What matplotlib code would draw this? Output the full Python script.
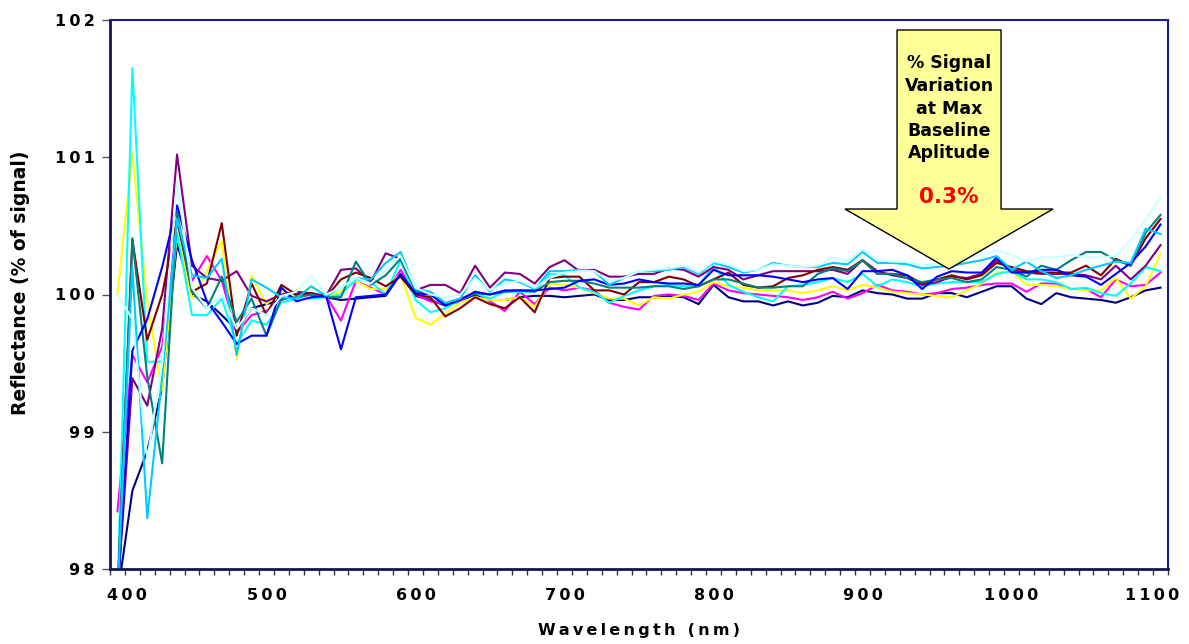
import matplotlib
matplotlib.use("Agg")
import matplotlib.pyplot as plt
import matplotlib.transforms as mtransforms
from matplotlib.patches import Polygon
import numpy as np

# wavelengths, 400..1100 nm every 10 nm
wavelength = list(range(400, 1101, 10))

navy = [97.8, 98.57, 98.86, 99.32, 100.37, 100.0, 99.95, 99.85, 99.74, 99.9,
        99.93, 99.96, 100.0, 100.0, 99.98, 99.96, 99.97, 99.98, 99.99, 100.15,
        99.99, 99.96, 99.92, 99.95, 100.0, 99.96, 99.96, 99.98, 99.99, 99.99,
        99.98, 99.99, 100.0, 99.96, 99.96, 99.98, 99.98, 99.99, 99.98, 99.93,
        100.07, 99.98, 99.95, 99.95, 99.92, 99.95, 99.92, 99.94, 99.99, 99.98,
        100.03, 100.01, 100.0, 99.97, 99.97, 100.01, 100.01, 99.98, 100.02, 100.06,
        100.06, 99.97, 99.93, 100.01, 99.98, 99.97, 99.96, 99.94, 99.98, 100.03,
        100.05]
magenta = [98.42, 99.56, 99.36, 99.62, 100.53, 100.1, 100.28, 100.1, 99.72, 99.85,
           99.88, 99.97, 99.98, 100.0, 99.99, 99.81, 100.1, 100.05, 100.0, 100.18,
           100.0, 99.95, 99.93, 99.95, 100.02, 99.95, 99.88, 100.02, 99.93, 100.05,
           100.03, 100.05, 100.03, 99.94, 99.91, 99.89, 99.99, 100.0, 99.99, 99.96,
           100.08, 100.03, 100.01, 100.0, 99.99, 99.98, 99.96, 99.98, 100.02, 99.97,
           100.01, 100.07, 100.03, 100.02, 100.0, 100.01, 100.04, 100.05, 100.07, 100.08,
           100.08, 100.02, 100.08, 100.08, 100.04, 100.04, 99.98, 100.11, 100.06, 100.07,
           100.16]
yellow = [100.0, 101.03, 99.95, 99.3, 100.45, 99.97, 100.17, 100.39, 99.53, 100.14,
          99.93, 100.03, 99.98, 100.06, 99.99, 100.02, 100.1, 100.04, 100.04, 100.15,
          99.83, 99.78, 99.86, 99.94, 99.98, 99.96, 99.96, 99.98, 99.91, 100.08,
          100.07, 100.05, 100.01, 99.97, 99.97, 99.92, 99.98, 99.97, 100.0, 100.02,
          100.09, 100.06, 100.05, 100.03, 100.03, 100.03, 100.01, 100.03, 100.06, 100.03,
          100.07, 100.05, 100.02, 100.01, 100.0, 99.99, 99.98, 100.03, 100.08, 100.16,
          100.17, 100.07, 100.07, 100.06, 100.04, 100.03, 100.03, 100.12, 99.97, 100.06,
          100.3]
cyan = [97.8, 101.65, 99.51, 99.51, 100.45, 99.85, 99.85, 99.97, 99.64, 99.81,
        99.78, 99.94, 99.97, 99.97, 99.98, 100.0, 100.11, 100.09, 100.0, 100.25,
        99.96, 99.87, 99.9, 99.96, 100.01, 99.97, 100.02, 100.02, 100.02, 100.15,
        100.14, 100.05, 100.02, 99.94, 99.99, 100.03, 100.06, 100.07, 100.06, 100.06,
        100.21, 100.07, 100.02, 99.98, 99.95, 100.06, 100.07, 100.09, 100.12, 100.09,
        100.15, 100.06, 100.11, 100.09, 100.06, 100.08, 100.09, 100.09, 100.09, 100.15,
        100.17, 100.11, 100.11, 100.09, 100.04, 100.05, 100.01, 99.99, 100.08, 100.2,
        100.17]
purple = [97.8, 99.39, 99.19, 99.75, 101.02, 100.21, 100.12, 100.1, 100.17, 99.99,
          99.95, 100.0, 100.02, 100.01, 99.99, 100.18, 100.19, 100.09, 100.3, 100.26,
          100.03, 100.07, 100.07, 100.01, 100.21, 100.05, 100.16, 100.15, 100.08, 100.2,
          100.25, 100.17, 100.18, 100.13, 100.13, 100.15, 100.15, 100.19, 100.18, 100.13,
          100.2, 100.18, 100.11, 100.14, 100.17, 100.17, 100.17, 100.17, 100.18, 100.15,
          100.25, 100.17, 100.14, 100.12, 100.07, 100.09, 100.13, 100.12, 100.15, 100.25,
          100.18, 100.16, 100.15, 100.15, 100.15, 100.14, 100.11, 100.21, 100.11, 100.21,
          100.36]
darkred = [97.8, 100.4, 99.67, 100.0, 100.55, 100.02, 100.08, 100.52, 99.7, 100.08,
           99.85, 100.07, 100.0, 100.01, 99.98, 100.11, 100.16, 100.12, 100.06, 100.13,
           100.0, 99.98, 99.84, 99.9, 99.98, 99.93, 99.9, 99.98, 99.87, 100.12,
           100.13, 100.13, 100.03, 100.03, 100.0, 100.09, 100.09, 100.13, 100.11, 100.06,
           100.11, 100.16, 100.07, 100.05, 100.06, 100.12, 100.14, 100.18, 100.2, 100.18,
           100.25, 100.15, 100.15, 100.14, 100.08, 100.11, 100.14, 100.11, 100.14, 100.23,
           100.2, 100.17, 100.16, 100.16, 100.16, 100.21, 100.14, 100.26, 100.21, 100.41,
           100.55]
teal = [97.8, 100.41, 99.4, 98.77, 100.6, 100.02, 99.9, 100.13, 99.8, 99.97,
        99.7, 99.97, 99.98, 100.0, 99.98, 99.98, 100.24, 100.07, 100.14, 100.26,
        100.03, 100.0, 99.93, 99.97, 100.01, 100.0, 100.02, 100.03, 100.02, 100.09,
        100.1, 100.1, 100.08, 100.05, 100.05, 100.05, 100.06, 100.06, 100.04, 100.06,
        100.11, 100.11, 100.08, 100.05, 100.05, 100.06, 100.06, 100.15, 100.19, 100.17,
        100.25, 100.15, 100.15, 100.12, 100.09, 100.11, 100.12, 100.09, 100.11, 100.2,
        100.18, 100.13, 100.21, 100.18, 100.25, 100.31, 100.31, 100.25, 100.21, 100.45,
        100.58]
blue = [97.8, 99.59, 99.82, 100.2, 100.65, 100.25, 99.95, 99.8, 99.64, 99.7,
        99.7, 100.05, 99.95, 99.98, 99.99, 99.6, 99.98, 99.99, 100.0, 100.15,
        100.01, 100.0, 99.92, 99.96, 100.02, 100.0, 100.03, 100.03, 100.03, 100.04,
        100.05, 100.1, 100.11, 100.07, 100.08, 100.11, 100.09, 100.08, 100.08, 100.07,
        100.18, 100.14, 100.14, 100.14, 100.13, 100.11, 100.09, 100.11, 100.12, 100.04,
        100.17, 100.17, 100.18, 100.14, 100.04, 100.13, 100.17, 100.16, 100.16, 100.27,
        100.16, 100.16, 100.18, 100.18, 100.14, 100.13, 100.07, 100.15, 100.23, 100.35,
        100.51]
skyblue = [97.8, 100.2, 98.37, 99.4, 100.55, 100.14, 100.12, 100.26, 99.56, 100.11,
           100.05, 99.98, 99.97, 100.06, 99.99, 100.05, 100.12, 100.11, 100.23, 100.31,
           100.04, 100.02, 99.94, 99.97, 100.14, 100.02, 100.11, 100.09, 100.04, 100.17,
           100.17, 100.18, 100.17, 100.07, 100.12, 100.17, 100.17, 100.18, 100.2, 100.15,
           100.23, 100.2, 100.16, 100.18, 100.23, 100.21, 100.2, 100.2, 100.23, 100.22,
           100.31, 100.23, 100.23, 100.22, 100.19, 100.2, 100.21, 100.23, 100.25, 100.28,
           100.18, 100.24, 100.17, 100.12, 100.14, 100.18, 100.21, 100.24, 100.23, 100.48,
           100.44]
lightcyan = [100.0, 99.82, 98.8, 99.5, 100.82, 100.05, 99.9, 100.0, 99.75, 99.9,
             99.85, 99.99, 100.02, 100.14, 100.0, 100.05, 100.12, 100.08, 100.18, 100.28,
             100.05, 100.0, 99.98, 100.0, 100.12, 100.03, 100.08, 100.1, 100.05, 100.12,
             100.16, 100.17, 100.17, 100.1, 100.12, 100.17, 100.18, 100.19, 100.21, 100.16,
             100.24, 100.22, 100.17, 100.18, 100.22, 100.21, 100.2, 100.21, 100.27, 100.24,
             100.33, 100.25, 100.24, 100.24, 100.21, 100.23, 100.26, 100.27, 100.29, 100.32,
             100.29, 100.24, 100.27, 100.27, 100.29, 100.27, 100.27, 100.28, 100.4, 100.54,
             100.71]

series = [navy, magenta, yellow, cyan, purple, darkred, teal, blue, skyblue, lightcyan]
colors = ['#000080', '#FF00FF', '#FFFF00', '#00FFFF', '#800080',
          '#800000', '#008080', '#0000FF', '#00CCFF', '#CCFFFF']

xticks = [400, 500, 600, 700, 800, 900, 1000, 1100]
yticks = [98, 99, 100, 101, 102]
arrow_lines = ['% Signal', 'Variation', 'at Max', 'Baseline', 'Aplitude']
arrow_value = '0.3%'

TS = '\u2009'  # thin space, used to mimic the wide letter spacing


def spaced(s):
    return TS.join(s)


fig = plt.figure(figsize=(11.89, 6.44), dpi=100)
ax = fig.add_axes([110 / 1189, 75 / 644, 1058 / 1189, 549 / 644])

for vals, c in zip(series, colors):
    ax.plot(wavelength, vals, color=c, linewidth=1.5)

ax.set_xlim(395, 1105)
ax.set_ylim(98, 102)

ax.set_xticks(xticks)
ax.set_xticklabels([spaced(str(v)) for v in xticks])
ax.set_xticks(np.arange(395, 1106, 10), minor=True)
ax.tick_params(axis='x', which='major', length=0, pad=14)
ax.tick_params(axis='x', which='minor', length=4.5, width=1, color='#333333',
               direction='out')
ax.set_yticks(yticks)
ax.set_yticklabels([spaced(str(v)) for v in yticks])
ax.tick_params(axis='y', length=6, width=1, color='#555555', pad=5)

for lab in ax.get_xticklabels() + ax.get_yticklabels():
    lab.set_fontfamily('DejaVu Sans')
    lab.set_fontweight('bold')
    lab.set_fontsize(11.5)

# Excel pushed the end labels inwards a little
xlabs = ax.get_xticklabels()
xlabs[0].set_transform(xlabs[0].get_transform() +
                       mtransforms.ScaledTranslation(0.09, 0, fig.dpi_scale_trans))
xlabs[-1].set_transform(xlabs[-1].get_transform() +
                        mtransforms.ScaledTranslation(-0.08, 0, fig.dpi_scale_trans))

for side in ['top', 'right']:
    ax.spines[side].set_color('#1a1aa0')
    ax.spines[side].set_linewidth(1.5)
for side in ['left', 'bottom']:
    ax.spines[side].set_color('#141450')
    ax.spines[side].set_linewidth(2)

ax.set_xlabel(spaced('Wavelength (nm)'), fontfamily='DejaVu Sans',
              fontweight='bold', fontsize=11.5, labelpad=14)
ax.set_ylabel('Reflectance (% of signal)', fontfamily='DejaVu Sans',
              fontweight='bold', fontsize=13.5)
ax.yaxis.set_label_coords(-0.076, 0.522)

# block arrow annotation (axes fraction coordinates)
arrow_pts = [(0.7439, 0.9818), (0.8422, 0.9818), (0.8422, 0.6557),
             (0.8913, 0.6557), (0.7930, 0.5464), (0.6947, 0.6557),
             (0.7439, 0.6557)]
ax.add_patch(Polygon(arrow_pts, closed=True, transform=ax.transAxes,
                     facecolor='#FFFF99', edgecolor='black', linewidth=1,
                     zorder=5))

line_y = [63, 86, 109, 131, 153]
for txt, py in zip(arrow_lines, line_y):
    ax.text(0.793, (569 - py) / 549, txt, transform=ax.transAxes,
            ha='center', va='center', fontfamily='DejaVu Sans',
            fontweight='bold', fontsize=12.5, color='black', zorder=6)
ax.text(0.793, (569 - 197) / 549, arrow_value, transform=ax.transAxes,
        ha='center', va='center', fontfamily='DejaVu Sans', fontweight='bold',
        fontsize=15.5, color='#FF0000', zorder=6)

fig.savefig('out.png', dpi=100)
